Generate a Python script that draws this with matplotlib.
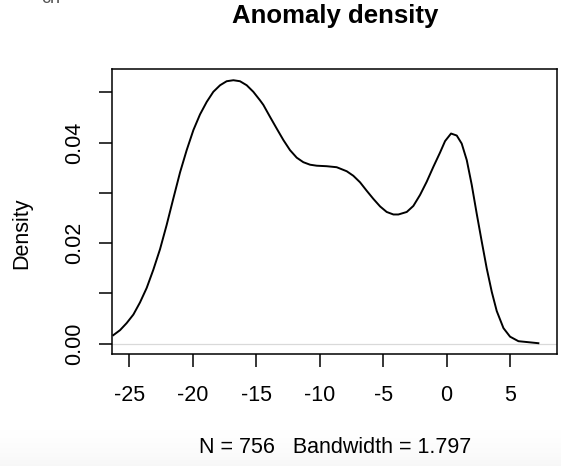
import matplotlib
matplotlib.use("Agg")
import matplotlib.pyplot as plt
import numpy as np

# density curve (x = anomaly, y = density)
anomaly = [-26.26, -25.73, -25.21, -24.68, -24.16, -23.63, -23.11, -22.58, -22.06,
           -21.53, -21.00, -20.48, -19.95, -19.43, -18.90, -18.38, -17.85, -17.33,
           -16.80, -16.28, -15.75, -15.23, -14.70, -14.44, -13.91, -13.39, -12.86,
           -12.34, -11.81, -11.29, -10.76, -10.23, -9.45, -8.66, -7.87, -7.35,
           -6.82, -6.29, -5.77, -5.24, -4.72, -4.19, -3.80, -3.14, -2.62, -2.09,
           -1.57, -1.04, -0.52, -0.12, 0.35, 0.80, 1.19, 1.59, 1.98, 2.37, 2.77,
           3.16, 3.56, 3.95, 4.48, 5.00, 5.66, 6.45, 7.23]
density = [0.0017, 0.0027, 0.0041, 0.0058, 0.0082, 0.0111, 0.0147, 0.0188, 0.0236,
           0.0289, 0.0341, 0.0385, 0.0425, 0.0456, 0.0481, 0.0501, 0.0514, 0.0522,
           0.0524, 0.0522, 0.0514, 0.0501, 0.0484, 0.0475, 0.0451, 0.0428, 0.0405,
           0.0385, 0.0370, 0.0361, 0.0356, 0.0354, 0.0353, 0.0351, 0.0343, 0.0334,
           0.0321, 0.0304, 0.0288, 0.0273, 0.0262, 0.0257, 0.0257, 0.0262, 0.0274, 0.0296,
           0.0322, 0.0352, 0.0380, 0.0403, 0.0418, 0.0414, 0.0398, 0.0365, 0.0316, 0.0259,
           0.0203, 0.0150, 0.0103, 0.0065, 0.0031, 0.0014, 0.0005, 0.0003, 0.0001]

x_ticks = [-25, -20, -15, -10, -5, 0, 5]
y_ticks = [0.00, 0.01, 0.02, 0.03, 0.04, 0.05]
y_labels = ["0.00", "", "0.02", "", "0.04", ""]

plt.rcParams['font.family'] = ['Liberation Sans', 'DejaVu Sans']

fig = plt.figure(figsize=(5.61, 4.66), dpi=100)

# light grey fade at the bottom of the screenshot
bg = fig.add_axes([0, 0, 1, 0.09], zorder=-5)
grad = np.linspace(0, 1, 50).reshape(-1, 1) ** 1.5
bg.imshow(grad, aspect='auto', cmap='Greys', vmin=0, vmax=16, origin='upper',
          extent=[0, 1, 0, 1])
bg.axis('off')

ax = fig.add_axes([0.2002, 0.2403, 0.7927, 0.6116])
ax.plot(anomaly, density, color='black', lw=1.4, solid_joinstyle='round')
ax.axhline(0, color='#d9d9d9', lw=0.9, zorder=0)

ax.set_xlim(-26.34, 8.7)
ax.set_ylim(-0.00205, 0.05463)
ax.set_xticks(x_ticks)
ax.set_xticklabels([str(t) for t in x_ticks])
ax.set_yticks(y_ticks)
ax.set_yticklabels(y_labels, rotation=90, va='center')

ax.tick_params(axis='both', length=9.5, width=1.1, labelsize=15.5, direction='out')
ax.tick_params(axis='x', pad=13)
ax.tick_params(axis='y', pad=10)
for s in ax.spines.values():
    s.set_linewidth(1.1)

fig.text(0.597, 0.965, "Anomaly density", ha='center', va='center',
         fontsize=18.5, fontweight='bold')
fig.text(0.597, 0.040, "N = 756   Bandwidth = 1.797", ha='center', va='center',
         fontsize=15.5)
fig.text(0.038, 0.5, "Density", rotation=90, ha='center', va='center',
         fontsize=15.5)
# clipped fragment at the very top left of the screenshot
fig.text(0.09, 1.004, "cn", ha='center', va='center', fontsize=13, color='#555555')

fig.savefig("out.png", dpi=100)
